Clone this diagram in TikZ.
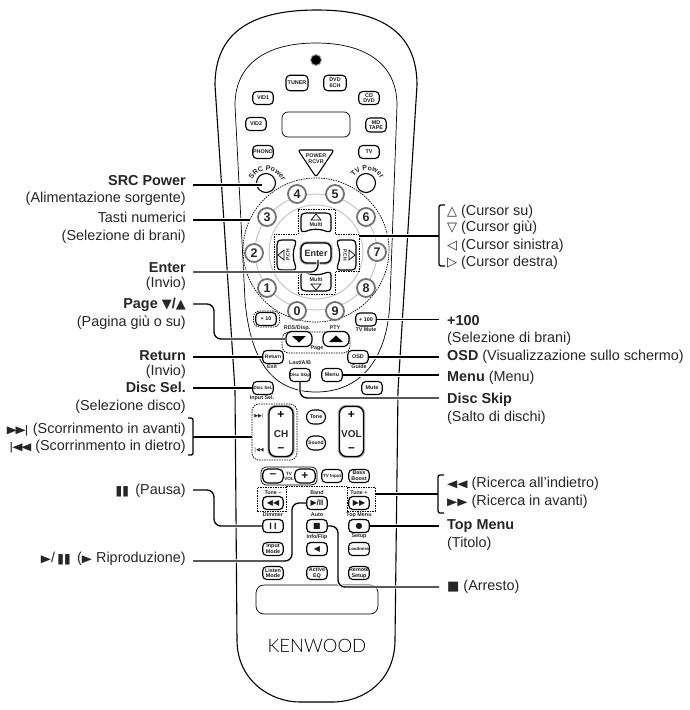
\documentclass[tikz,border=0pt]{standalone}
\usepackage{graphicx}
\usepackage{fontspec}
\setmainfont{Liberation Sans}
\newfontfamily\symfont{DejaVu Sans}
\newfontfamily\brandfont{Lato Light}
\usetikzlibrary{decorations.text}

\newcommand{\lsym}[1]{\scalebox{1.4}[1.1]{\symfont\fontsize{9.5}{10}\selectfont #1}}
\newcommand{\csym}[1]{{\symfont\fontsize{13}{13}\selectfont #1}}
\newcommand{\ksym}[1]{{\symfont\fontsize{8}{8}\selectfont #1}}
\newcommand{\arcfont}{\fontsize{7}{7}\selectfont\bfseries\color{black!85}}

\tikzset{
  lbl/.style={inner sep=0pt, font=\fontsize{14.4}{17}\selectfont, text=black!85, text height=11.5pt, text depth=2.5pt},
  lblleft/.style={lbl, anchor=east},
  lblright/.style={lbl, anchor=west},
  rkey/.style={draw, fill=white, line width=1.1pt, rounded corners=4pt, inner sep=0pt, minimum width=20.5pt, minimum height=13pt, align=center, font=\fontsize{5.4}{5.7}\selectfont\bfseries, text=black!90},
  bigkey/.style={rkey, line width=1.3pt, rounded corners=6pt, preaction={draw=gray!65, line width=3.4pt}},
  numkey/.style={circle, draw=black!55, fill=white, line width=1.8pt, inner sep=0pt, minimum size=18pt, font=\fontsize{12.5}{13}\selectfont\bfseries, text=black!85},
  tag/.style={inner sep=0pt, align=center, font=\fontsize{5.4}{5.7}\selectfont\bfseries, text=black!85},
  dashbox/.style={draw, dash pattern=on 1.5pt off 1pt, line width=0.7pt, inner sep=0pt},
  leader/.style={line width=1.3pt, preaction={draw=white, line width=3.2pt}},
  shell/.style={line width=1.1pt},
  cursorkey/.pic={
    \draw[fill=white, line width=1.2pt] (-15,6) -- (-15,-4.5) .. controls (-15,-8.5) and (-13,-9.5) .. (-10,-9.5) -- (10,-9.5) .. controls (13,-9.5) and (15,-8.5) .. (15,-4.5) -- (15,6) .. controls (15,9) and (13,10) .. (11,9) .. controls (4,6) and (-4,6) .. (-11,9) .. controls (-13,10) and (-15,9) .. (-15,6) -- cycle;
    \draw[line width=0.7pt] (-5,-2.5) -- (5,-2.5) -- (0,-8.5) -- cycle;
  }
}

\begin{document}
\begin{tikzpicture}[x=1pt, y=-1pt]
\useasboundingbox (0,0) rectangle (689,710);
\fill[white] (0,0) rectangle (689,710);

% body of the remote
\draw[shell] (237,640) .. controls (237,680) and (270,702) .. (300,702) -- (332,702) .. controls (365,702) and (395,680) .. (395,640) -- (398,390) -- (417,85) .. controls (417,30) and (378,10) .. (317,10) .. controls (255,10) and (215,30) .. (215,85) -- (235,390) -- cycle;
\draw[line width=0.7pt] (235,105) .. controls (235,65) and (265,43) .. (316,43) .. controls (367,43) and (397,65) .. (397,105) -- (390,300) .. controls (388,360) and (360,392) .. (316,392) .. controls (272,392) and (250,360) .. (245,300) -- cycle;
\draw[line width=0.7pt, rounded corners=8pt] (256,585) rectangle (378,614);
\node[inner sep=0pt, font=\brandfont\fontsize{18.5}{19}\selectfont] (brand) at (317,646) {KENWOOD};

% sensor and display
\draw[draw=gray!70, line width=1pt, fill=black] (316,60) circle (5.5pt);
\fill[black] (316,60) circle (3.5pt);
\draw[line width=0.7pt, rounded corners=6pt] (282,112) rectangle (350,137);

% source keys
\node[rkey, minimum width=22pt, minimum height=15.5pt] (tuner) at (297,83) {TUNER};
\node[rkey, minimum width=22.5pt, minimum height=15.5pt] (dvd) at (335,83) {DVD\\6CH};
\node[rkey] (vid1) at (263,98) {VID1};
\node[rkey] (cddvd) at (369,98) {CD\\DVD};
\node[rkey] (vid2) at (256,124) {VID2};
\node[rkey, minimum height=14pt] (mdtape) at (376,125) {MD\\TAPE};
\node[rkey] (phono) at (263,152) {PHONO};
\node[rkey] (tvk) at (369,152) {TV};

% power keys
\draw[fill=white, line width=1.1pt, rounded corners=2.5pt] (298,150) -- (334,150) -- (316,177) -- cycle;
\node[tag] (rcvr) at (316,158.5) {POWER\\RCVR};
\node[circle, draw, fill=white, line width=1.1pt, minimum size=19pt, inner sep=0pt] (srcpw) at (266,183) {};
\node[circle, draw, fill=white, line width=1.1pt, minimum size=19pt, inner sep=0pt] (tvpw) at (366,183) {};
\path[decorate, decoration={text along path, text align=center, text={|\arcfont|SRC Power}}] (250,185) .. controls (254,166) and (279,164) .. (284,187);
\path[decorate, decoration={text along path, text align=center, text={|\arcfont|TV Power}}] (350,185) .. controls (354,166) and (379,164) .. (384,187);

% number pad
\draw[fill=white, dash pattern=on 1.5pt off 1pt, line width=0.7pt] (316,250) ellipse [x radius=73pt, y radius=72pt];
\draw[gray!45, line width=1pt] (316,252) ellipse [x radius=61pt, y radius=58pt];
\draw[gray!45, line width=1pt] (316,252) circle (47pt);
\node[numkey] (n4) at (297,194) {4};
\node[numkey] (n5) at (335,194) {5};
\node[numkey] (n3) at (267,217) {3};
\node[numkey] (n6) at (366,217) {6};
\node[numkey] (n2) at (254,253) {2};
\node[numkey] (n7) at (377,252) {7};
\node[numkey] (n1) at (267,288) {1};
\node[numkey] (n8) at (366,288) {8};
\node[numkey] (n0) at (297,311) {0};
\node[numkey] (n9) at (335,311) {9};

% cursor cross
\draw[fill=white, dash pattern=on 1.5pt off 1pt, line width=0.7pt] (298,209) -- (335,209) -- (335,234) -- (359,234) -- (359,271) -- (335,271) -- (335,294) -- (298,294) -- (298,271) -- (274,271) -- (274,234) -- (298,234) -- cycle;
\coordinate (crossr) at (359,236);
\pic at (316,222.5) {cursorkey};
\pic[rotate=180] at (316,281.5) {cursorkey};
\pic[rotate=90] at (286.5,255) {cursorkey};
\pic[rotate=-90] at (346.5,255) {cursorkey};
\node[tag] (multiup) at (316,224.5) {Multi};
\node[tag] (multidn) at (316,279.5) {Multi};
\node[tag, rotate=90, font=\fontsize{5}{5.2}\selectfont\bfseries] (pchm) at (288,255) {P.CH};
\node[tag, rotate=-90, font=\fontsize{5}{5.2}\selectfont\bfseries] (pchp) at (345,255) {P.CH};
\node[bigkey, minimum width=30pt, minimum height=20pt, font=\fontsize{9}{9}\selectfont\bfseries, text=black!85] (enterk) at (316,253) {Enter};

% page keys
\node[dashbox, rounded corners=7pt, minimum width=68pt, minimum height=21pt] (pagebox) at (316,342.5) {};
\node[rkey, rounded corners=6pt, line width=1.2pt, minimum width=26pt, minimum height=15pt] (pgdn) at (299,339) {};
\node[rkey, rounded corners=6pt, line width=1.2pt, minimum width=26pt, minimum height=15pt] (pgup) at (336,339) {};
\fill (292,336) -- (306,336) -- (299,342.5) -- cycle;
\fill (329,342) -- (343,342) -- (336,335.5) -- cycle;
\node[tag, fill=white, inner xsep=1pt] (pagetag) at (317,348) {Page};
\node[tag] (rdstag) at (297,328) {RDS/Disp.};
\node[tag] (ptytag) at (335,328) {PTY};
\node[dashbox, rounded corners=6pt, minimum width=26pt, minimum height=16pt, fill=white] (tenbox) at (266.5,319) {};
\node[rkey] (k10) at (266,319) {+ 10};
\node[rkey] (k100) at (366,319.5) {+ 100};
\node[tag] (mutetv) at (366,330) {TV Mute};

% middle keys
\node[rkey, font=\fontsize{5}{5}\selectfont\bfseries] (retk) at (273,357) {Return};
\node[tag] (exittag) at (272,367) {Exit};
\node[rkey] (osdk) at (358,357) {OSD};
\node[tag] (guidetag) at (359,367) {Guide};
\node[tag] (lasttag) at (300,363) {Last/A/B};
\node[rkey, font=\fontsize{4.5}{5}\selectfont\bfseries] (skipk) at (300,375) {Disc Skip};
\node[rkey] (menuk) at (332,375) {Menu};
\node[rkey] (mutek) at (372,388) {Mute};
\node[rkey, font=\fontsize{4.5}{5}\selectfont\bfseries] (selk) at (263,388) {Disc Sel.};
\node[tag] (inputtag) at (262,398) {Input Sel.};

% channel and volume
\node[dashbox, rounded corners=7pt, minimum width=45pt, minimum height=56pt] (chbox) at (274.5,432) {};
\node[tag, font=\fontsize{5}{5}\selectfont] (chnext) at (259,416) {\symfont ▶▶|};
\node[tag, font=\fontsize{5}{5}\selectfont] (chprev) at (259,450) {\symfont |◀◀};
\node[bigkey, rounded corners=7pt, minimum width=24pt, minimum height=50pt] (chk) at (281,431.5) {};
\node[bigkey, rounded corners=7pt, minimum width=24pt, minimum height=50pt] (volk) at (351.5,431.5) {};
\node[tag, font=\fontsize{12}{12}\selectfont\bfseries, text=black] (chplus) at (281,415) {+};
\node[tag, font=\fontsize{10}{10}\selectfont\bfseries] (chname) at (281,434) {CH};
\node[tag, font=\fontsize{12}{12}\selectfont\bfseries, text=black] (chminus) at (281,450) {--};
\node[tag, font=\fontsize{12}{12}\selectfont\bfseries, text=black] (volplus) at (351.5,415) {+};
\node[tag, font=\fontsize{10}{10}\selectfont\bfseries] (volname) at (351.5,434) {VOL};
\node[tag, font=\fontsize{12}{12}\selectfont\bfseries, text=black] (volminus) at (351.5,450) {--};
\node[rkey, rounded corners=7pt, minimum width=19pt, minimum height=14pt] (tonek) at (316,417) {Tone};
\node[rkey, rounded corners=7pt, minimum width=19pt, minimum height=14pt, font=\fontsize{5}{5}\selectfont\bfseries] (soundk) at (316,443) {Sound};

% TV volume row
\draw[line width=0.7pt, rounded corners=5pt] (261,467) rectangle (317,485);
\node[rkey, line width=1.2pt, rounded corners=5pt, minimum height=14pt, font=\fontsize{12}{12}\selectfont\bfseries] (tvminus) at (273,476) {--};
\node[rkey, line width=1.2pt, rounded corners=5pt, minimum height=14pt, font=\fontsize{12}{12}\selectfont\bfseries] (tvplus) at (305,476) {+};
\node[tag, font=\fontsize{4.6}{5}\selectfont\bfseries] (tvvol) at (289,476) {TV\\VOL};
\node[rkey, font=\fontsize{4.5}{5}\selectfont\bfseries] (tvinput) at (332,476) {TV Input};
\node[rkey] (bassk) at (359,476) {Bass\\Boost};

% tune row
\node[dashbox, minimum width=29pt, minimum height=24pt] (tunem) at (271.5,499) {};
\node[dashbox, minimum width=28pt, minimum height=24pt] (tunep) at (361,499) {};
\draw[dash pattern=on 1.5pt off 1pt, line width=0.7pt] (tunem.north east) -- (tunep.north west);
\node[tag] (tuneminus) at (273,493) {Tune --};
\node[tag] (bandtag) at (317,493) {Band};
\node[tag] (tuneplus) at (359,493) {Tune +};
\node[rkey, line width=1.2pt] (rewk) at (273,503) {\ksym{◀◀}};
\node[rkey, line width=1.2pt] (playk) at (317,503) {\ksym{▶}\fontsize{8}{8}\selectfont\bfseries/II};
\node[rkey, line width=1.2pt] (ffk) at (359,503) {\ksym{▶▶}};
\node[tag] (dimtag) at (273,515) {Dimmer};
\node[tag] (autotag) at (317,515) {Auto};
\node[tag] (toptag) at (359,515) {Top Menu};
\node[rkey, line width=1.2pt, font=\fontsize{9}{9}\selectfont\bfseries] (pausek) at (273,526) {I I};
\node[rkey, line width=1.2pt] (stopk) at (317,526) {\ksym{■}};
\node[rkey, line width=1.2pt] (reck) at (359,526) {\ksym{●}};
\node[tag] (setuptag) at (359,536) {Setup};
\node[tag] (infotag) at (317,537) {Info/Flip};
\node[rkey] (inputk) at (273,549) {Input\\Mode};
\node[rkey, line width=1.2pt] (backk) at (317,549) {\ksym{◀}};
\node[rkey, font=\fontsize{4.4}{5}\selectfont\bfseries] (loudk) at (359,549) {Loudness};
\node[rkey] (listenk) at (273,573) {Listen\\Mode};
\node[rkey] (activek) at (317,573) {Active\\EQ};
\node[rkey] (remotek) at (359,573) {Remote\\Setup};

% left labels
\node[lblleft] (lsrc) at (186,181) {\textbf{SRC Power}};
\node[lblleft] (lsrcb) at (186,198) {(Alimentazione sorgente)};
\node[lblleft] (lnum) at (186,218) {Tasti numerici};
\node[lblleft] (lnumb) at (186,236) {(Selezione di brani)};
\node[lblleft] (lent) at (186,268) {\textbf{Enter}};
\node[lblleft] (lentb) at (186,283) {(Invio)};
\node[lblleft] (lpag) at (186,304) {\textbf{Page \csym{▼}/\csym{▲}}};
\node[lblleft] (lpagb) at (186,322) {(Pagina giù o su)};
\node[lblleft] (lret) at (186,356) {\textbf{Return}};
\node[lblleft] (lretb) at (186,371) {(Invio)};
\node[lblleft] (lsel) at (186,388) {\textbf{Disc Sel.}};
\node[lblleft] (lselb) at (186,406) {(Selezione disco)};
\node[lblleft] (lnext) at (186,429) {\lsym{▶\kern-1pt▶\kern-1pt|} (Scorrinmento in avanti)};
\node[lblleft] (lprev) at (186,446) {\lsym{|\kern-1pt◀\kern-1pt◀} (Scorrinmento in dietro)};
\node[lblleft] (lpau) at (186,490) {\lsym{❚\kern-3pt❚} (Pausa)};
\node[lblleft] (lplay) at (186,558) {\lsym{▶}/\lsym{❚\kern-3pt❚} (\lsym{▶} Riproduzione)};

% right labels
\node[lblright] (rup) at (447,211) {\csym{△} (Cursor su)};
\node[lblright] (rdn) at (447,227) {\csym{▽} (Cursor giù)};
\node[lblright] (rlf) at (447,245) {\csym{◁} (Cursor sinistra)};
\node[lblright] (rrt) at (447,262) {\csym{▷} (Cursor destra)};
\node[lblright] (rhun) at (447,321) {\textbf{+100}};
\node[lblright] (rhunb) at (447,338) {(Selezione di brani)};
\node[lblright] (rosd) at (447,356) {\textbf{OSD} (Visualizzazione sullo schermo)};
\node[lblright] (rmen) at (447,377) {\textbf{Menu} (Menu)};
\node[lblright] (rskp) at (447,399) {\textbf{Disc Skip}};
\node[lblright] (rskpb) at (447,417) {(Salto di dischi)};
\node[lblright] (rrew) at (447,483) {\lsym{◀◀} (Ricerca all'indietro)};
\node[lblright] (rff) at (447,501) {\lsym{▶▶} (Ricerca in avanti)};
\node[lblright] (rtop) at (447,525) {\textbf{Top Menu}};
\node[lblright] (rtopb) at (447,543) {(Titolo)};
\node[lblright] (rstp) at (447,586) {\csym{■} (Arresto)};

% leader lines, left side
\coordinate (fsrc) at (193,185);
\coordinate (tsrc) at (262,185);
\coordinate (fnum) at (193,220);
\coordinate (tnum) at (250,220);
\coordinate (fent) at (193,272);
\coordinate (tent) at (318,260);
\coordinate (fpag) at (193,304);
\coordinate (fret) at (193,357);
\coordinate (fsel) at (193,388);
\coordinate (fch) at (193,437);
\coordinate (fpau) at (193,490);
\coordinate (fply) at (193,561);
\draw[leader] (fsrc) -- (tsrc);
\draw[leader] (fnum) -- (tnum);
\draw[leader, rounded corners=7pt] (fent) -| (tent);
\draw[leader, rounded corners=7pt] (fpag) -- (214,304) -- (214,339) -- (pgdn.west);
\draw[leader] (fret) -- (retk.west);
\draw[leader] (fsel) -- (selk.west);
\draw[leader] (fch) -- (fch -| chbox.west);
\draw[line width=1.3pt, rounded corners=2pt] (188,418) -- (193,418) -- (193,455) -- (188,455);
\draw[leader, rounded corners=7pt] (fpau) -- (214,490) -- (214,526) -- (pausek.west);
\draw[leader, rounded corners=7pt] (fply) -- (292,561) -- (292,503) -- (playk.west);

% leader lines, right side
\coordinate (tcur) at (439,236);
\coordinate (thun) at (439,319.5);
\coordinate (tosd) at (439,357);
\coordinate (tmen) at (439,375);
\coordinate (tskp) at (439,398);
\coordinate (ttun) at (438,494);
\coordinate (ttop) at (439,526);
\coordinate (tstp) at (439,587);
\draw[leader] (crossr) -- (tcur);
\draw[line width=1.3pt, rounded corners=2pt] (445,205) -- (439,205) -- (439,266) -- (445,266);
\draw[leader] (k100.east) -- (thun);
\draw[leader] (osdk.east) -- (tosd);
\draw[leader] (menuk.east) -- (tmen);
\draw[leader, rounded corners=7pt] (skipk.south) |- (tskp);
\draw[leader] (ttun -| tunep.east) -- (ttun);
\draw[line width=1.3pt, rounded corners=2pt] (444,475) -- (438,475) -- (438,513) -- (444,513);
\draw[leader] (reck.east) -- (ttop);
\draw[leader, rounded corners=7pt] (stopk.east) -- (338,526) -- (338,587) -- (tstp);
\end{tikzpicture}
\end{document}
